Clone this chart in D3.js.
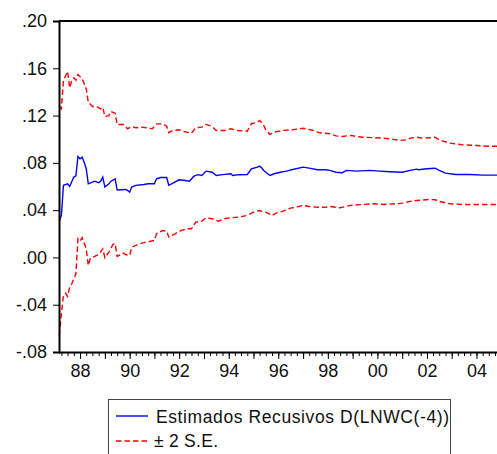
<!DOCTYPE html>
<html>
<head>
<meta charset="utf-8">
<script src="https://cdn.jsdelivr.net/npm/d3@7/dist/d3.min.js"></script>
<style>
  html, body { margin: 0; padding: 0; background: #fff; }
  svg { display: block; font-family: "Liberation Sans", Arial, sans-serif; }
</style>
</head>
<body>
<svg id="chart" width="497" height="454"></svg>
<script>
// Recursive coefficient estimate (monthly) and its ±2 S.E. band
const estimate = [
  ["1987-03", 0.0310], ["1987-04", 0.0355], ["1987-05", 0.0610], ["1987-07", 0.0623],
  ["1987-08", 0.0600], ["1987-10", 0.0680], ["1987-11", 0.0690], ["1987-12", 0.0854],
  ["1988-01", 0.0835], ["1988-02", 0.0848], ["1988-03", 0.0806], ["1988-04", 0.0750],
  ["1988-05", 0.0623], ["1988-07", 0.0637], ["1988-08", 0.0645], ["1988-10", 0.0632],
  ["1988-11", 0.0645], ["1988-12", 0.0680], ["1989-01", 0.0595], ["1989-03", 0.0623],
  ["1989-04", 0.0645], ["1989-06", 0.0665], ["1989-07", 0.0570], ["1989-11", 0.0575],
  ["1989-12", 0.0567], ["1990-01", 0.0552], ["1990-02", 0.0595], ["1990-04", 0.0610],
  ["1990-08", 0.0617], ["1990-10", 0.0623], ["1991-01", 0.0623], ["1991-02", 0.0665],
  ["1991-04", 0.0676], ["1991-07", 0.0676], ["1991-08", 0.0610], ["1991-10", 0.0629],
  ["1992-01", 0.0657], ["1992-04", 0.0651], ["1992-06", 0.0645], ["1992-08", 0.0685],
  ["1992-10", 0.0700], ["1992-12", 0.0693], ["1993-02", 0.0730], ["1993-05", 0.0721],
  ["1993-07", 0.0693], ["1993-10", 0.0700], ["1994-02", 0.0708], ["1994-03", 0.0693],
  ["1994-06", 0.0700], ["1994-10", 0.0702], ["1994-12", 0.0750], ["1995-03", 0.0764],
  ["1995-04", 0.0772], ["1995-05", 0.0758], ["1995-06", 0.0736], ["1995-07", 0.0721],
  ["1995-09", 0.0693], ["1995-11", 0.0708], ["1996-02", 0.0721], ["1996-05", 0.0730],
  ["1996-08", 0.0744], ["1997-01", 0.0764], ["1997-04", 0.0755], ["1997-08", 0.0742],
  ["1997-12", 0.0742], ["1998-02", 0.0736], ["1998-05", 0.0721], ["1998-08", 0.0716],
  ["1998-10", 0.0736], ["1999-03", 0.0730], ["1999-09", 0.0736], ["2000-02", 0.0730],
  ["2000-07", 0.0725], ["2001-01", 0.0721], ["2001-05", 0.0736], ["2001-08", 0.0747],
  ["2001-09", 0.0742], ["2002-01", 0.0750], ["2002-05", 0.0755], ["2002-07", 0.0736],
  ["2002-10", 0.0713], ["2003-03", 0.0702], ["2003-10", 0.0702], ["2004-04", 0.0696],
  ["2004-12", 0.0696]
];

const upperBand = [
  ["1987-03", 0.1277], ["1987-04", 0.1257], ["1987-05", 0.1497], ["1987-07", 0.1573],
  ["1987-08", 0.1435], ["1987-09", 0.1497], ["1987-10", 0.1520], ["1987-11", 0.1500],
  ["1987-12", 0.1548], ["1988-02", 0.1511], ["1988-04", 0.1427], ["1988-05", 0.1313],
  ["1988-07", 0.1277], ["1988-09", 0.1277], ["1988-11", 0.1257], ["1988-12", 0.1270],
  ["1989-01", 0.1192], ["1989-03", 0.1200], ["1989-04", 0.1235], ["1989-06", 0.1220],
  ["1989-07", 0.1125], ["1989-10", 0.1125], ["1989-12", 0.1088], ["1990-02", 0.1108],
  ["1990-04", 0.1097], ["1990-07", 0.1102], ["1990-09", 0.1097], ["1990-12", 0.1088],
  ["1991-02", 0.1130], ["1991-05", 0.1130], ["1991-07", 0.1110], ["1991-08", 0.1055],
  ["1991-10", 0.1074], ["1992-01", 0.1080], ["1992-03", 0.1066], ["1992-07", 0.1051],
  ["1992-09", 0.1097], ["1992-12", 0.1102], ["1993-02", 0.1125], ["1993-05", 0.1108],
  ["1993-07", 0.1074], ["1993-11", 0.1074], ["1994-02", 0.1088], ["1994-05", 0.1074],
  ["1994-10", 0.1068], ["1994-12", 0.1131], ["1995-03", 0.1144], ["1995-04", 0.1159],
  ["1995-06", 0.1116], ["1995-07", 0.1080], ["1995-09", 0.1040], ["1995-11", 0.1060],
  ["1996-03", 0.1074], ["1996-08", 0.1080], ["1997-01", 0.1093], ["1997-06", 0.1074],
  ["1997-09", 0.1054], ["1997-12", 0.1051], ["1998-02", 0.1046], ["1998-05", 0.1028],
  ["1998-08", 0.1023], ["1998-12", 0.1032], ["1999-03", 0.1023], ["1999-06", 0.1017],
  ["2000-01", 0.1012], ["2000-07", 0.1004], ["2000-12", 0.0990], ["2001-03", 0.0995],
  ["2001-05", 0.1009], ["2001-08", 0.1017], ["2001-11", 0.1009], ["2002-02", 0.1012],
  ["2002-05", 0.1017], ["2002-07", 0.0995], ["2002-12", 0.0967], ["2003-06", 0.0953],
  ["2004-01", 0.0947], ["2004-06", 0.0941], ["2004-12", 0.0941]
];

const lowerBand = [
  ["1987-03", -0.0660], ["1987-04", -0.0476], ["1987-05", -0.0321], ["1987-06", -0.0302],
  ["1987-07", -0.0330], ["1987-08", -0.0251], ["1987-09", -0.0223], ["1987-11", -0.0138],
  ["1987-12", 0.0158], ["1988-01", 0.0138], ["1988-02", 0.0167], ["1988-04", 0.0073],
  ["1988-05", -0.0068], ["1988-06", -0.0006], ["1988-08", 0.0008], ["1988-10", 0.0025],
  ["1988-12", 0.0073], ["1989-01", -0.0003], ["1989-03", 0.0045], ["1989-05", 0.0110],
  ["1989-06", 0.0116], ["1989-07", 0.0008], ["1989-10", 0.0037], ["1989-11", 0.0025],
  ["1990-01", 0.0017], ["1990-02", 0.0087], ["1990-05", 0.0110], ["1990-09", 0.0130],
  ["1991-01", 0.0144], ["1991-02", 0.0200], ["1991-05", 0.0228], ["1991-07", 0.0222],
  ["1991-08", 0.0172], ["1991-11", 0.0200], ["1992-02", 0.0228], ["1992-05", 0.0243],
  ["1992-07", 0.0243], ["1992-09", 0.0299], ["1992-12", 0.0307], ["1993-02", 0.0336],
  ["1993-05", 0.0327], ["1993-08", 0.0307], ["1993-11", 0.0327], ["1994-02", 0.0336],
  ["1994-06", 0.0341], ["1994-10", 0.0355], ["1995-01", 0.0383], ["1995-04", 0.0397],
  ["1995-06", 0.0383], ["1995-07", 0.0383], ["1995-10", 0.0355], ["1995-12", 0.0375],
  ["1996-03", 0.0389], ["1996-07", 0.0417], ["1996-11", 0.0431], ["1997-01", 0.0440],
  ["1997-04", 0.0431], ["1997-08", 0.0425], ["1997-12", 0.0425], ["1998-02", 0.0431],
  ["1998-07", 0.0420], ["1998-12", 0.0440], ["1999-06", 0.0448], ["1999-11", 0.0454],
  ["2000-04", 0.0448], ["2000-10", 0.0454], ["2001-01", 0.0459], ["2001-05", 0.0474],
  ["2001-08", 0.0482], ["2002-02", 0.0490], ["2002-05", 0.0488], ["2002-07", 0.0474],
  ["2002-12", 0.0454], ["2003-06", 0.0448], ["2004-01", 0.0448], ["2004-12", 0.0448]
];

const yTicks = [-0.08, -0.04, 0.00, 0.04, 0.08, 0.12, 0.16, 0.20];
const xLabelYears = [1988, 1990, 1992, 1994, 1996, 1998, 2000, 2002, 2004];
const legendLabels = ["Estimados Recusivos D(LNWC(-4))", "\u00b1 2 S.E."];

const parseMonth = d3.timeParse("%Y-%m");
const svg = d3.select("#chart");

const plotLeft = 59, plotTop = 21, plotBottom = 352;
const x = d3.scaleTime()
  .domain([parseMonth("1987-03"), parseMonth("2004-12")])
  .range([59.3, 499.2]);
const y = d3.scaleLinear().domain([-0.08, 0.20]).range([plotBottom, plotTop]);

// Numbers as ".20", "-.04" (plain hyphen, no leading zero)
const fmtY = v => d3.format(".2f")(v).replace("\u2212", "-").replace(/^(-?)0\./, "$1.");

// Series lines
const line = d3.line()
  .x(d => x(parseMonth(d[0])))
  .y(d => y(d[1]));

const plot = svg.append("g");
plot.append("path").datum(upperBand)
  .attr("d", line).attr("fill", "none")
  .attr("stroke", "#ff0000").attr("stroke-width", 1.4)
  .attr("stroke-dasharray", "5.5,3");
plot.append("path").datum(lowerBand)
  .attr("d", line).attr("fill", "none")
  .attr("stroke", "#ff0000").attr("stroke-width", 1.4)
  .attr("stroke-dasharray", "5.5,3");
plot.append("path").datum(estimate)
  .attr("d", line).attr("fill", "none")
  .attr("stroke", "#0000ff").attr("stroke-width", 1.4);

// Top frame line
svg.append("line")
  .attr("x1", plotLeft).attr("x2", 497).attr("y1", plotTop).attr("y2", plotTop)
  .attr("stroke", "#000").attr("stroke-width", 2);

// Y axis
const yAxis = svg.append("g")
  .attr("transform", `translate(${plotLeft},0)`)
  .call(d3.axisLeft(y).tickValues(yTicks).tickFormat(fmtY).tickSize(6).tickPadding(6));
yAxis.select(".domain").attr("stroke-width", 2);
yAxis.selectAll(".tick line").attr("stroke-width", 1);
yAxis.selectAll("text").attr("font-size", 18).attr("fill", "#111")
  .attr("font-family", "Liberation Sans, Arial, sans-serif");

// X axis: quarterly minor ticks, yearly major ticks, labels every two years
const quarters = d3.timeMonth.range(parseMonth("1987-04"), parseMonth("2005-01"), 3);
const xMinor = svg.append("g")
  .attr("transform", `translate(0,${plotBottom})`)
  .call(d3.axisBottom(x).tickValues(quarters).tickFormat("").tickSize(4).tickSizeOuter(0));
xMinor.select(".domain").attr("d", `M${plotLeft},0.5H497`).attr("stroke-width", 2);

const years = d3.timeYear.range(parseMonth("1988-01"), parseMonth("2005-01"));
const xMajor = svg.append("g")
  .attr("transform", `translate(0,${plotBottom})`)
  .call(d3.axisBottom(x).tickValues(years)
    .tickFormat(d => xLabelYears.includes(d.getFullYear()) ? d3.timeFormat("%y")(d) : "")
    .tickSize(7).tickPadding(5));
xMajor.select(".domain").remove();
xMajor.selectAll("text").attr("font-size", 18).attr("fill", "#111")
  .attr("font-family", "Liberation Sans, Arial, sans-serif");

// Legend
const lg = svg.append("g");
lg.append("rect")
  .attr("x", 108.5).attr("y", 399.5).attr("width", 342).attr("height", 70)
  .attr("fill", "#fff").attr("stroke", "#444").attr("stroke-width", 1);
lg.append("line").attr("x1", 116).attr("x2", 148).attr("y1", 416).attr("y2", 416)
  .attr("stroke", "#0000ff").attr("stroke-width", 1.4);
lg.append("line").attr("x1", 116).attr("x2", 148).attr("y1", 441).attr("y2", 441)
  .attr("stroke", "#ff0000").attr("stroke-width", 1.4).attr("stroke-dasharray", "5.5,3");
lg.selectAll("text.lbl").data(legendLabels).join("text")
  .attr("class", "lbl")
  .attr("x", (d, i) => i === 0 ? 156 : 154)
  .attr("y", (d, i) => 422.5 + i * 24)
  .attr("font-size", 17.5).attr("fill", "#111")
  .attr("textLength", (d, i) => i === 0 ? 293 : 64)
  .attr("lengthAdjust", "spacing")
  .text(d => d);
</script>
</body>
</html>
